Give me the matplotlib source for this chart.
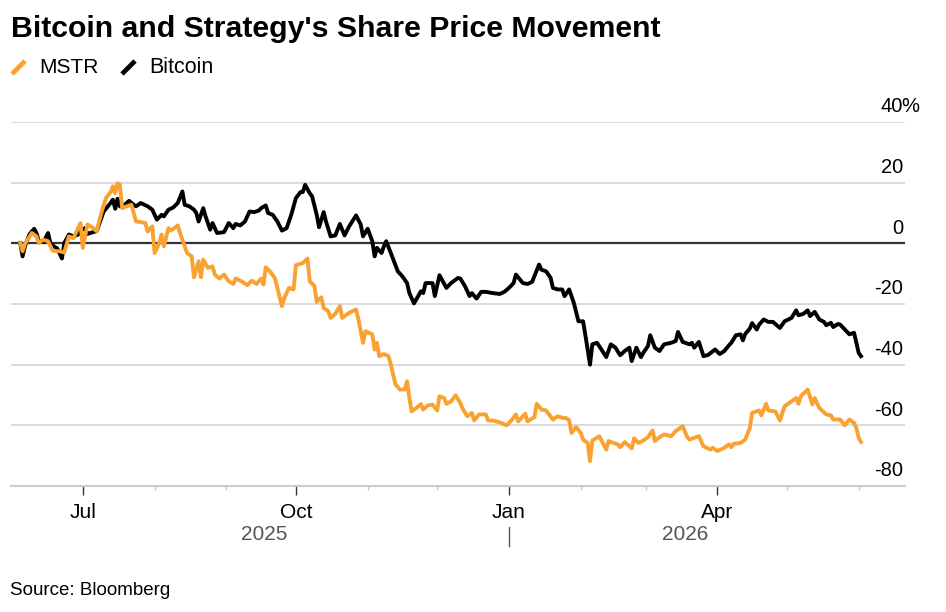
import pandas as pd
import matplotlib
matplotlib.use("Agg")
import matplotlib.pyplot as plt
import matplotlib.transforms as mtransforms
from matplotlib.lines import Line2D

plt.rcParams['font.family'] = ['Liberation Sans', 'DejaVu Sans']

# % change since start
btc_dates = [
    "2025-06-04", "2025-06-05", "2025-06-06", "2025-06-08", "2025-06-10", "2025-06-11", "2025-06-12",
    "2025-06-14", "2025-06-16", "2025-06-17", "2025-06-18", "2025-06-20", "2025-06-22", "2025-06-23",
    "2025-06-25", "2025-06-27", "2025-06-29", "2025-06-30", "2025-07-02", "2025-07-03", "2025-07-05",
    "2025-07-07", "2025-07-08", "2025-07-10", "2025-07-13", "2025-07-14", "2025-07-15", "2025-07-16",
    "2025-07-17", "2025-07-19", "2025-07-21", "2025-07-23", "2025-07-24", "2025-07-26", "2025-07-29",
    "2025-07-31", "2025-08-02", "2025-08-04", "2025-08-05", "2025-08-07", "2025-08-09", "2025-08-11",
    "2025-08-13", "2025-08-14", "2025-08-16", "2025-08-18", "2025-08-19", "2025-08-20", "2025-08-22",
    "2025-08-23", "2025-08-25", "2025-08-26", "2025-08-28", "2025-08-31", "2025-09-02", "2025-09-04",
    "2025-09-05", "2025-09-07", "2025-09-09", "2025-09-11", "2025-09-13", "2025-09-15", "2025-09-16",
    "2025-09-18", "2025-09-19", "2025-09-21", "2025-09-23", "2025-09-25", "2025-09-27", "2025-09-29",
    "2025-10-01", "2025-10-03", "2025-10-04", "2025-10-05", "2025-10-07", "2025-10-08", "2025-10-10",
    "2025-10-11", "2025-10-13", "2025-10-14", "2025-10-16", "2025-10-18", "2025-10-20", "2025-10-22",
    "2025-10-24", "2025-10-27", "2025-10-29", "2025-10-30", "2025-11-01", "2025-11-03", "2025-11-04",
    "2025-11-05", "2025-11-07", "2025-11-08", "2025-11-09", "2025-11-11", "2025-11-14", "2025-11-16",
    "2025-11-18", "2025-11-19", "2025-11-21", "2025-11-24", "2025-11-25", "2025-11-26", "2025-11-29",
    "2025-11-30", "2025-12-02", "2025-12-05", "2025-12-07", "2025-12-10", "2025-12-11", "2025-12-13",
    "2025-12-15", "2025-12-16", "2025-12-18", "2025-12-20", "2025-12-22", "2025-12-25", "2025-12-28",
    "2025-12-30", "2026-01-01", "2026-01-03", "2026-01-04", "2026-01-07", "2026-01-09", "2026-01-11",
    "2026-01-14", "2026-01-15", "2026-01-17", "2026-01-19", "2026-01-20", "2026-01-22", "2026-01-24",
    "2026-01-25", "2026-01-27", "2026-01-29", "2026-01-31", "2026-02-02", "2026-02-03", "2026-02-05",
    "2026-02-06", "2026-02-08", "2026-02-09", "2026-02-12", "2026-02-14", "2026-02-16", "2026-02-18",
    "2026-02-20", "2026-02-22", "2026-02-23", "2026-02-25", "2026-02-27", "2026-02-28", "2026-03-02",
    "2026-03-03", "2026-03-05", "2026-03-07", "2026-03-09", "2026-03-12", "2026-03-14", "2026-03-15",
    "2026-03-17", "2026-03-20", "2026-03-21", "2026-03-22", "2026-03-24", "2026-03-26", "2026-03-28",
    "2026-03-31", "2026-04-02", "2026-04-04", "2026-04-06", "2026-04-07", "2026-04-09", "2026-04-11",
    "2026-04-12", "2026-04-13", "2026-04-15", "2026-04-16", "2026-04-18", "2026-04-19", "2026-04-21",
    "2026-04-23", "2026-04-25", "2026-04-28", "2026-04-30", "2026-05-03", "2026-05-05", "2026-05-06",
    "2026-05-08", "2026-05-10", "2026-05-11", "2026-05-13", "2026-05-15", "2026-05-17", "2026-05-18",
    "2026-05-20", "2026-05-21", "2026-05-23", "2026-05-24", "2026-05-26", "2026-05-28", "2026-05-30",
    "2026-05-31", "2026-06-01", "2026-06-02",
]
btc = [
    0.1, -4.3, -1.0, 3.0, 4.8, 3.4, 0.7, 0.4, 3.4, 0.1, -0.7, -1.7, -5.0, 0.1,
    2.9, 2.3, 2.9, 4.2, 5.0, 3.1, 3.6, 4.0, 6.2, 10.5, 13.3, 14.4, 11.4, 14.7,
    12.2, 12.7, 14.0, 12.7, 12.2, 13.3, 12.2, 11.1, 7.8, 9.4, 8.9, 11.1, 11.8, 13.3,
    17.1, 12.7, 12.2, 11.1, 10.0, 7.2, 11.6, 8.9, 4.5, 6.7, 3.4, 3.7, 6.7, 5.0,
    6.4, 5.9, 7.2, 10.5, 10.3, 10.8, 11.6, 12.5, 10.0, 9.4, 7.2, 4.2, 5.0, 9.4,
    14.9, 16.9, 16.9, 19.3, 16.5, 15.5, 9.4, 5.3, 10.3, 7.2, 2.3, 2.6, 6.4, 2.6,
    5.6, 9.2, 6.2, 2.3, 4.8, 0.7, -4.3, -1.5, -3.2, -1.0, 0.7, -3.2, -9.2, -10.9,
    -13.1, -16.4, -19.8, -15.8, -16.4, -13.1, -13.1, -17.4, -10.5, -14.7, -13.1, -11.4, -11.6, -14.1,
    -17.4, -16.4, -18.2, -16.0, -16.0, -16.4, -16.7, -16.0, -14.7, -13.1, -10.3, -13.1, -13.4, -12.7,
    -7.0, -8.7, -9.2, -11.4, -14.7, -15.2, -15.2, -17.4, -15.2, -19.6, -25.7, -25.7, -30.3, -40.0,
    -33.3, -32.8, -33.9, -37.5, -33.3, -34.4, -36.9, -35.5, -34.4, -38.8, -34.4, -37.5, -36.1, -33.9,
    -30.3, -34.4, -35.5, -33.3, -32.8, -32.2, -29.2, -32.5, -33.3, -32.8, -34.4, -32.5, -37.2, -36.8,
    -35.0, -36.5, -35.5, -33.6, -32.8, -30.3, -30.0, -32.0, -29.9, -28.1, -26.3, -28.4, -26.8, -25.1,
    -25.9, -25.9, -27.9, -25.7, -24.6, -22.1, -23.7, -23.3, -22.1, -24.0, -22.6, -25.1, -25.9, -27.0,
    -26.2, -27.6, -26.6, -26.8, -28.4, -30.0, -29.5, -32.8, -36.1, -37.2,
]

mstr_dates = [
    "2025-06-04", "2025-06-05", "2025-06-06", "2025-06-09", "2025-06-11", "2025-06-12", "2025-06-14",
    "2025-06-16", "2025-06-18", "2025-06-20", "2025-06-21", "2025-06-23", "2025-06-25", "2025-06-27",
    "2025-06-28", "2025-06-30", "2025-07-01", "2025-07-03", "2025-07-05", "2025-07-07", "2025-07-09",
    "2025-07-11", "2025-07-13", "2025-07-14", "2025-07-15", "2025-07-16", "2025-07-17", "2025-07-18",
    "2025-07-20", "2025-07-22", "2025-07-23", "2025-07-24", "2025-07-26", "2025-07-28", "2025-07-29",
    "2025-07-31", "2025-08-01", "2025-08-03", "2025-08-04", "2025-08-05", "2025-08-07", "2025-08-08",
    "2025-08-11", "2025-08-12", "2025-08-15", "2025-08-17", "2025-08-18", "2025-08-20", "2025-08-21",
    "2025-08-22", "2025-08-24", "2025-08-26", "2025-08-27", "2025-08-29", "2025-08-31", "2025-09-02",
    "2025-09-04", "2025-09-05", "2025-09-08", "2025-09-10", "2025-09-12", "2025-09-14", "2025-09-16",
    "2025-09-17", "2025-09-18", "2025-09-20", "2025-09-22", "2025-09-23", "2025-09-25", "2025-09-26",
    "2025-09-28", "2025-09-30", "2025-10-01", "2025-10-04", "2025-10-06", "2025-10-07", "2025-10-09",
    "2025-10-10", "2025-10-12", "2025-10-13", "2025-10-15", "2025-10-16", "2025-10-18", "2025-10-20",
    "2025-10-21", "2025-10-24", "2025-10-27", "2025-10-28", "2025-10-30", "2025-10-31", "2025-11-03",
    "2025-11-04", "2025-11-05", "2025-11-06", "2025-11-08", "2025-11-10", "2025-11-11", "2025-11-13",
    "2025-11-15", "2025-11-17", "2025-11-18", "2025-11-19", "2025-11-20", "2025-11-22", "2025-11-24",
    "2025-11-25", "2025-11-27", "2025-11-29", "2025-12-01", "2025-12-02", "2025-12-04", "2025-12-05",
    "2025-12-07", "2025-12-09", "2025-12-11", "2025-12-12", "2025-12-14", "2025-12-16", "2025-12-17",
    "2025-12-19", "2025-12-22", "2025-12-23", "2025-12-25", "2025-12-28", "2025-12-31", "2026-01-02",
    "2026-01-04", "2026-01-05", "2026-01-08", "2026-01-09", "2026-01-12", "2026-01-13", "2026-01-15",
    "2026-01-17", "2026-01-20", "2026-01-22", "2026-01-24", "2026-01-26", "2026-01-27", "2026-01-28",
    "2026-01-30", "2026-02-01", "2026-02-02", "2026-02-04", "2026-02-05", "2026-02-06", "2026-02-08",
    "2026-02-09", "2026-02-12", "2026-02-13", "2026-02-17", "2026-02-18", "2026-02-20", "2026-02-23",
    "2026-02-24", "2026-02-26", "2026-02-28", "2026-03-02", "2026-03-04", "2026-03-05", "2026-03-07",
    "2026-03-09", "2026-03-12", "2026-03-14", "2026-03-17", "2026-03-19", "2026-03-20", "2026-03-22",
    "2026-03-24", "2026-03-26", "2026-03-29", "2026-03-30", "2026-04-01", "2026-04-04", "2026-04-06",
    "2026-04-07", "2026-04-08", "2026-04-11", "2026-04-13", "2026-04-15", "2026-04-16", "2026-04-19",
    "2026-04-20", "2026-04-22", "2026-04-23", "2026-04-26", "2026-04-28", "2026-04-30", "2026-05-03",
    "2026-05-05", "2026-05-06", "2026-05-07", "2026-05-10", "2026-05-12", "2026-05-13", "2026-05-15",
    "2026-05-18", "2026-05-20", "2026-05-21", "2026-05-24", "2026-05-26", "2026-05-28", "2026-05-30",
    "2026-05-31", "2026-06-01", "2026-06-02",
]
mstr = [
    0.1, -2.6, -0.2, 3.4, 2.3, 0.1, 1.2, 0.7, -2.4, -2.6, -2.6, -3.0, 2.3, 1.7,
    3.4, 6.7, -1.5, 6.2, 5.3, 4.0, 10.0, 14.9, 16.9, 18.8, 16.5, 19.8, 19.3, 11.6,
    12.2, 12.7, 10.0, 7.2, 7.0, 6.7, 3.9, 5.6, -3.2, 0.1, 2.9, -1.0, 5.0, 4.2,
    5.9, 3.4, -3.2, -4.3, -11.2, -5.9, -11.2, -5.4, -8.1, -7.6, -10.3, -11.6, -10.3, -12.5,
    -13.4, -11.6, -12.7, -13.8, -12.3, -13.4, -11.6, -13.6, -7.9, -9.4, -11.6, -14.7, -20.7, -18.0,
    -14.7, -15.2, -7.2, -6.5, -5.0, -12.5, -14.1, -19.3, -17.8, -21.3, -22.4, -24.6, -23.3, -20.7,
    -24.6, -22.9, -21.8, -25.1, -32.8, -29.0, -30.0, -35.0, -32.8, -37.2, -36.5, -37.2, -40.0, -46.5,
    -48.2, -48.2, -45.5, -51.0, -55.4, -54.3, -53.0, -54.8, -53.4, -53.2, -55.1, -50.4, -51.0, -52.9,
    -52.1, -50.1, -52.6, -54.5, -57.0, -55.9, -58.4, -56.4, -56.4, -58.4, -58.4, -59.0, -60.0, -58.4,
    -56.4, -58.7, -56.2, -58.7, -57.3, -52.9, -54.8, -55.1, -58.1, -57.0, -57.5, -57.7, -58.4, -62.5,
    -60.6, -62.5, -64.7, -65.8, -71.8, -65.0, -64.1, -63.6, -68.0, -65.2, -66.3, -67.2, -65.5, -67.6,
    -64.3, -65.8, -65.0, -63.9, -61.7, -65.2, -63.9, -63.0, -63.6, -61.9, -60.3, -63.9, -64.7, -64.1,
    -63.6, -66.9, -68.0, -67.4, -68.5, -67.4, -66.3, -67.2, -66.1, -65.8, -64.7, -60.9, -55.9, -55.1,
    -56.7, -52.9, -55.1, -55.4, -58.4, -53.7, -52.1, -51.0, -52.9, -50.4, -48.2, -53.1, -51.0, -54.3,
    -56.4, -56.7, -58.1, -58.1, -60.0, -58.1, -59.2, -60.9, -64.1, -65.5,
]

y_ticks = [40, 20, 0, -20, -40, -60, -80]
y_labels = ["40", "20", "0", "-20", "-40", "-60", "-80"]
x_major = ["2025-07-01", "2025-10-01", "2026-01-01", "2026-04-01"]
x_major_labels = ["Jul", "Oct", "Jan", "Apr"]

ORANGE = "#F9A131"
W, H = 946, 612

btc_dates = pd.to_datetime(btc_dates)
mstr_dates = pd.to_datetime(mstr_dates)
x_major = pd.to_datetime(x_major)

fig = plt.figure(figsize=(W / 100, H / 100), dpi=100)
ax = fig.add_axes([11 / W, 126 / H, 894 / W, 364 / H])

ax.plot(btc_dates, btc, color="black", lw=2.8, solid_joinstyle="round", zorder=3)
ax.plot(mstr_dates, mstr, color=ORANGE, lw=2.8, solid_joinstyle="round", zorder=4)

ax.set_ylim(-80, 40)
ax.set_xlim(pd.Timestamp("2025-05-31"), pd.Timestamp("2026-06-21"))

# gridlines + labels sitting on top of them at the right
for v, lab in zip(y_ticks, y_labels):
    if v != -80:
        ax.axhline(v, color="#333333" if v == 0 else "#d4d4d4",
                   lw=1.6 if v == 0 else 1.2, zorder=1 if v else 2)
    ax.annotate(lab, xy=(1, v), xycoords=("axes fraction", "data"),
                xytext=(-1.5, 7), textcoords="offset points",
                ha="right", va="baseline", fontsize=14.5, annotation_clip=False)
# the % sign hangs past the right edge on the top label
ax.annotate("%", xy=(1, y_ticks[0]), xycoords=("axes fraction", "data"),
            xytext=(-2.8, 7), textcoords="offset points",
            ha="left", va="baseline", fontsize=14.5, annotation_clip=False)
ax.set_yticks([])

for s in ["top", "left", "right"]:
    ax.spines[s].set_visible(False)
ax.spines["bottom"].set_color("#cccccc")
ax.spines["bottom"].set_linewidth(1.5)

minor = [d for d in pd.date_range("2025-08-01", "2026-06-01", freq="MS") if d not in x_major]
ax.set_xticks(x_major)
ax.set_xticklabels(x_major_labels)
ax.set_xticks(minor, minor=True)
ax.tick_params(axis="x", which="major", length=6.5, width=1.0, color="#333333",
               labelsize=15, pad=5.5)
ax.tick_params(axis="x", which="minor", length=3, width=1.0, color="#c8c8c8")

# year labels under the months, with a divider at the new year
trans = mtransforms.blended_transform_factory(ax.transData, ax.transAxes)
jan = pd.Timestamp("2026-01-01")
y0, y1 = mstr_dates[0], mstr_dates[-1]
ax.text(y0 + (jan - y0) / 2, -0.134, "2025", transform=trans, ha="center", va="center",
        fontsize=15, color="#555555")
ax.text(jan + (y1 - jan) / 2, -0.134, "2026", transform=trans, ha="center", va="center",
        fontsize=15, color="#555555")
ax.plot([jan, jan], [-0.113, -0.165], transform=trans, color="#555555", lw=1.0, clip_on=False)

fig.text(11 / W, 1 - 37 / H, "Bitcoin and Strategy's Share Price Movement",
         fontsize=21.8, fontweight="bold", va="baseline")

# legend: short slashes + names
fig.add_artist(Line2D([12 / W, 25 / W], [1 - 74 / H, 1 - 61 / H], color=ORANGE, lw=3.4,
                      solid_capstyle="butt", transform=fig.transFigure))
fig.text(39 / W, 1 - 73 / H, "MSTR", fontsize=15, va="baseline")
fig.add_artist(Line2D([122 / W, 135 / W], [1 - 74 / H, 1 - 61 / H], color="black", lw=3.4,
                      solid_capstyle="butt", transform=fig.transFigure))
fig.text(149 / W, 1 - 73 / H, "Bitcoin", fontsize=15.5, va="baseline")

fig.text(10 / W, 1 - 595 / H, "Source: Bloomberg", fontsize=13.5, va="baseline")

fig.savefig("out.png", dpi=100)
